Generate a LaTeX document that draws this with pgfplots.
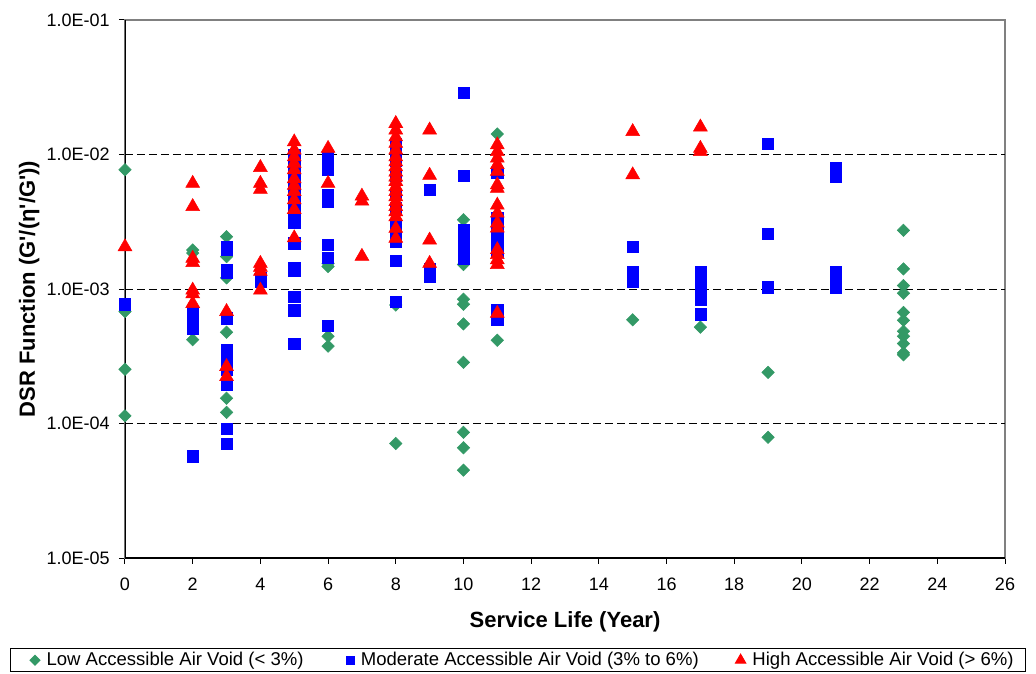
\documentclass[border=0pt]{standalone}
\usepackage{pgfplots}
\pgfplotsset{compat=1.18}
\usepackage{fontspec}
\setmainfont{Liberation Sans}
\definecolor{lowgreen}{RGB}{51,153,102}
\pgfplotsset{
  legmark/.style={legend image code/.code={\draw[##1, mark size=#1] plot coordinates {(0pt,0pt)};}},
  legmarkfirst/.style={legend image code/.code={\path (-11pt,0pt); \draw[##1, mark size=#1] plot coordinates {(0pt,0pt)};}}
}
\begin{document}
\begin{tikzpicture}
\path[use as bounding box] (-93.75pt,-87pt) rectangle (683.25pt,418.5pt);
\begin{axis}[
  at={(0pt,0pt)}, anchor=south west,
  scale only axis, width=660pt, height=403.5pt,
  xmin=0, xmax=26, ymin=1e-5, ymax=1e-1, ymode=log,
  axis line style={draw=gray, line width=0.9pt},
  tick pos=left, tick align=outside, major tick length=4.5pt,
  tick style={black, line width=0.75pt},
  minor tick num=0, yminorticks=false,
  xtick={0,2,...,26},
  xticklabels={0,2,4,6,8,10,12,14,16,18,20,22,24,26},
  ytick={1e-5,1e-4,1e-3,1e-2,1e-1},
  yticklabels={1.0E-05,1.0E-04,1.0E-03,1.0E-02,1.0E-01},
  /pgf/number format/assume math mode=true,
  ticklabel style={font=\fontsize{13.5}{16}\selectfont},
  xticklabel style={yshift=-7pt},
  yticklabel style={xshift=-3.5pt},
  extra y ticks={1e-4,1e-3,1e-2},
  extra y tick labels={},
  extra y tick style={grid=major, major tick length=0pt,
     major grid style={black, line width=0.75pt, dash pattern=on 6pt off 3pt}},
  xlabel={Service Life (Year)},
  ylabel={DSR Function (G\textquotesingle/(η\textquotesingle/G\textquotesingle))},
  label style={font=\bfseries\fontsize{16.5}{19}\selectfont},
  xlabel style={at={(axis description cs:0.5,-0.119)}, anchor=center},
  ylabel style={at={(axis description cs:-0.109,0.5)}, anchor=center, rotate=0},
  legend columns=3,
  legend style={at={(axis description cs:-0.1307,-0.19)}, anchor=west,
    draw=black, line width=0.75pt, font=\fontsize{13.9}{16}\selectfont,
    inner ysep=1pt, inner xsep=7pt,
    /tikz/every odd column/.append style={column sep=3pt},
    /tikz/column 2/.append style={column sep=30pt},
    /tikz/column 4/.append style={column sep=25.5pt}},
  legend cell align=left,
]
\draw[black, line width=0.9pt] (rel axis cs:0,1) -- (rel axis cs:0,0) -- (rel axis cs:1,0);
\addplot[only marks, mark=square*, mark size=3.3pt, mark options={rotate=45, fill=lowgreen, draw=lowgreen},
  legmarkfirst=2.6pt]
  coordinates {
  (0,7.7e-3) (0,6.8e-4) (0,2.53e-4) (0,1.14e-4)
  (2,1.95e-3) (2,1.85e-3) (2,4.2e-4)
  (3,2.45e-3) (3,1.74e-3) (3,1.21e-3) (3,4.77e-4) (3,1.54e-4) (3,1.21e-4)
  (6,1.55e-3) (6,1.47e-3) (6,4.45e-4) (6,3.76e-4)
  (8,7.6e-4) (8,7.1e-5)
  (10,3.27e-3) (10,1.52e-3) (10,8.4e-4) (10,7.7e-4) (10,5.5e-4) (10,2.85e-4) (10,8.6e-5) (10,6.6e-5) (10,4.5e-5)
  (11,1.42e-2) (11,4.16e-4)
  (15,5.9e-4)
  (17,5.2e-4)
  (19,2.4e-4) (19,7.9e-5)
  (23,2.73e-3) (23,1.41e-3) (23,1.06e-3) (23,9.3e-4) (23,6.7e-4) (23,5.85e-4) (23,4.85e-4) (23,4.45e-4) (23,3.93e-4) (23,3.35e-4) (23,3.24e-4)
  };
\addlegendentry{Low Accessible Air Void (< 3\%)}
\addplot[only marks, mark=square*, mark size=4.2pt, mark options={fill=blue, draw=blue},
  legmark=3pt]
  coordinates {
  (0,7.7e-4)
  (2,6.6e-4) (2,6.05e-4) (2,5.6e-4) (2,5.1e-4) (2,5.7e-5)
  (3,2.04e-3) (3,1.95e-3) (3,1.38e-3) (3,1.32e-3) (3,6.05e-4) (3,3.52e-4) (3,3.15e-4) (3,2.81e-4) (3,2.5e-4) (3,1.94e-4) (3,9.1e-5) (3,7.1e-5)
  (4,1.2e-3) (4,1.13e-3)
  (5,1.0e-2) (5,9.1e-3) (5,8.1e-3) (5,7.0e-3) (5,5.75e-3) (5,5.0e-3) (5,4.1e-3) (5,3.5e-3) (5,3.1e-3) (5,2.19e-3) (5,1.43e-3) (5,1.37e-3) (5,8.8e-4) (5,6.95e-4) (5,3.9e-4)
  (6,9.6e-3) (6,8.5e-3) (6,7.7e-3) (6,5.0e-3) (6,4.46e-3) (6,2.13e-3) (6,1.70e-3) (6,5.3e-4)
  (8,1.2e-2) (8,1.08e-2) (8,9.0e-3) (8,7.0e-3) (8,5.0e-3) (8,4.0e-3) (8,2.9e-3) (8,2.4e-3) (8,2.25e-3) (8,1.62e-3) (8,8.05e-4)
  (9,5.5e-3) (9,1.42e-3) (9,1.24e-3)
  (10,2.88e-2) (10,6.98e-3) (10,2.76e-3) (10,2.46e-3) (10,2.2e-3) (10,1.96e-3) (10,1.68e-3)
  (11,7.3e-3) (11,3.4e-3) (11,3.0e-3) (11,2.6e-3) (11,2.3e-3) (11,2.1e-3) (11,1.9e-3) (11,7.0e-4) (11,5.9e-4)
  (15,2.05e-3) (15,1.35e-3) (15,1.24e-3) (15,1.14e-3)
  (17,1.33e-3) (17,1.19e-3) (17,1.06e-3) (17,9.3e-4) (17,8.3e-4) (17,6.5e-4)
  (19,1.2e-2) (19,2.56e-3) (19,1.03e-3)
  (21,7.9e-3) (21,6.8e-3) (21,1.33e-3) (21,1.17e-3) (21,1.02e-3)
  };
\addlegendentry{Moderate Accessible Air Void (3\% to 6\%)}
\addplot[only marks, mark=triangle*, mark size=6pt, mark options={fill=red, draw=red},
  legmark=4.5pt]
  coordinates {
  (0,2.06e-3)
  (2,6.1e-3) (2,4.1e-3) (2,1.69e-3) (2,1.57e-3) (2,9.8e-4) (2,9.2e-4) (2,7.8e-4)
  (3,6.8e-4) (3,2.65e-4) (3,2.23e-4)
  (4,8.0e-3) (4,6.1e-3) (4,5.5e-3) (4,1.55e-3) (4,1.45e-3) (4,1.35e-3) (4,9.8e-4)
  (5,1.24e-2) (5,1.08e-2) (5,9.6e-3) (5,8.6e-3) (5,7.7e-3) (5,6.6e-3) (5,5.9e-3) (5,5.3e-3) (5,4.6e-3) (5,3.9e-3) (5,2.4e-3)
  (6,1.11e-2) (6,6.1e-3)
  (7,4.9e-3) (7,4.5e-3) (7,1.75e-3)
  (8,1.70e-2) (8,1.52e-2) (8,1.35e-2) (8,1.21e-2) (8,1.08e-2) (8,9.6e-3) (8,8.8e-3) (8,8.1e-3) (8,7.4e-3) (8,6.8e-3) (8,6.3e-3) (8,5.75e-3) (8,5.3e-3) (8,4.85e-3) (8,4.46e-3) (8,4.1e-3) (8,3.75e-3) (8,3.44e-3) (8,2.82e-3) (8,2.38e-3)
  (9,1.52e-2) (9,7.0e-3) (9,2.31e-3) (9,1.55e-3)
  (11,1.18e-2) (11,1.05e-2) (11,9.4e-3) (11,8.4e-3) (11,7.5e-3) (11,5.95e-3) (11,5.6e-3) (11,4.2e-3) (11,3.66e-3) (11,3.09e-3) (11,2.84e-3) (11,1.96e-3) (11,1.80e-3) (11,1.65e-3) (11,1.52e-3) (11,6.6e-4)
  (15,1.48e-2) (15,7.06e-3)
  (17,1.60e-2) (17,1.11e-2) (17,1.05e-2)
  };
\addlegendentry{High Accessible Air Void (> 6\%)}
\end{axis}
\end{tikzpicture}
\end{document}
